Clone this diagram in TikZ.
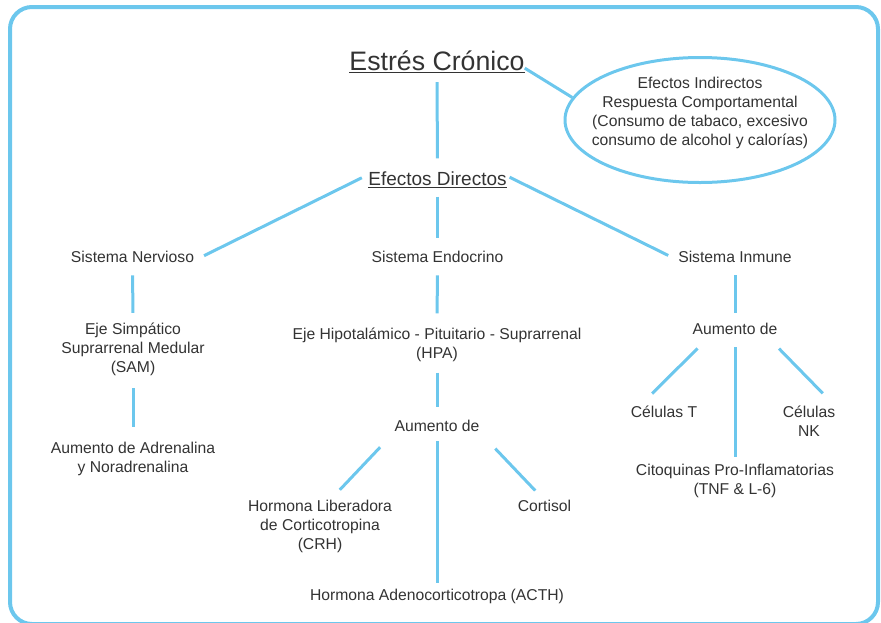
\documentclass[tikz,border=0pt]{standalone}
\usepackage{fontspec}
\setmainfont{Liberation Sans}
\usepackage{tikz}
\usetikzlibrary{shapes.geometric}
\definecolor{celeste}{RGB}{108,199,237}
\definecolor{tinta}{RGB}{51,51,51}

\begin{document}
\begin{tikzpicture} [x = 1pt, y = -1pt,
	texto/.style = {inner sep = 0pt,
		align = center,
		text = tinta,
		font = \fontsize{15.7}{19}\selectfont},
	enlace/.style = {draw = celeste,
		line width = 3pt},
	globo/.style = {ellipse,
		draw = celeste,
		line width = 3pt,
		minimum width = 270pt,
		minimum height = 125pt}]

	\useasboundingbox (0,0) rectangle (881,622);
	\draw [celeste, line width = 4pt, rounded corners = 22pt] (10,7) rectangle (878,624);

	\node (estres) at (437,62) [texto, font = \fontsize{26.7}{30}\selectfont] {\underline{Estrés Crónico}};
	\node (ind) at (700,120) [globo] {};
	\node (indtxt) at (700,113) [texto] {Efectos Indirectos\\Respuesta Comportamental\\(Consumo de tabaco, excesivo\\consumo de alcohol y calorías)};
	\node (dir) at (437.5,179.5) [texto, font = \fontsize{19}{22}\selectfont] {\underline{Efectos Directos}};

	\node (nerv) at (132.5,257.3) [texto] {Sistema Nervioso};
	\node (endo) at (437.5,257.3) [texto] {Sistema Endocrino};
	\node (inmu) at (735,257.3) [texto] {Sistema Inmune};

	\node (sam) at (133,349.5) [texto] {Eje Simpático\\Suprarrenal Medular\\(SAM)};
	\node (adre) at (133,459) [texto] {Aumento de Adrenalina\\y Noradrenalina};

	\node (hpa) at (437,344.5) [texto] {Eje Hipotalámico - Pituitario - Suprarrenal\\(HPA)};
	\node (aum1) at (437,426) [texto] {Aumento de};
	\node (crh) at (320,526.5) [texto] {Hormona Liberadora\\de Corticotropina\\(CRH)};
	\node (cort) at (544.5,506.3) [texto] {Cortisol};
	\node (acth) at (437,596.5) [texto] {Hormona Adenocorticotropa (ACTH)};

	\node (aum2) at (735,329) [texto] {Aumento de};
	\node (celt) at (664,412) [texto] {Células T};
	\node (nk) at (809,421.5) [texto] {Células\\NK};
	\node (cito) at (735,480.5) [texto] {Citoquinas Pro-Inflamatorias\\(TNF \& L-6)};

	% ramas
	\draw [enlace] (estres.356) -- (ind.170);
	\draw [enlace, shorten <= 9pt, shorten >= 13pt] (estres.south) -- (dir.north);
	\draw [enlace, shorten <= 7pt, shorten >= 11pt] (dir.176) -- (nerv.357);
	\draw [enlace, shorten <= 3pt, shorten >= 11pt] (dir.3) -- (inmu.183);
	\draw [enlace, shorten <= 9pt, shorten >= 13pt] (dir.south) -- (endo.north);

	\draw [enlace, shorten <= 12pt, shorten >= 10pt] (nerv.south) -- (sam.north);
	\draw [enlace, shorten <= 12pt, shorten >= 15pt] (sam.south) -- (adre.north);

	\draw [enlace, shorten <= 12pt, shorten >= 14pt] (endo.south) -- (hpa.north);
	\draw [enlace, shorten <= 11pt, shorten >= 13.5pt] (hpa.south) -- (aum1.north);
	\draw [enlace, shorten <= 21pt, shorten >= 14pt] (aum1.188) -- (crh.69);
	\draw [enlace, shorten <= 23pt, shorten >= 13.5pt] (aum1.352) -- (cort.north);
	\draw [enlace, shorten <= 9.5pt, shorten >= 6pt] (aum1.south) -- (acth.north);

	\draw [enlace, shorten <= 12pt, shorten >= 10.5pt] (inmu.south) -- (aum2.north);
	\draw [enlace, shorten <= 19pt, shorten >= 17.5pt] (aum2.194) -- (celt.166);
	\draw [enlace, shorten <= 19pt, shorten >= 18pt] (aum2.349) -- (nk.30);
	\draw [enlace, shorten <= 12.5pt, shorten >= 6pt] (aum2.south) -- (cito.north);

\end{tikzpicture}
\end{document}
